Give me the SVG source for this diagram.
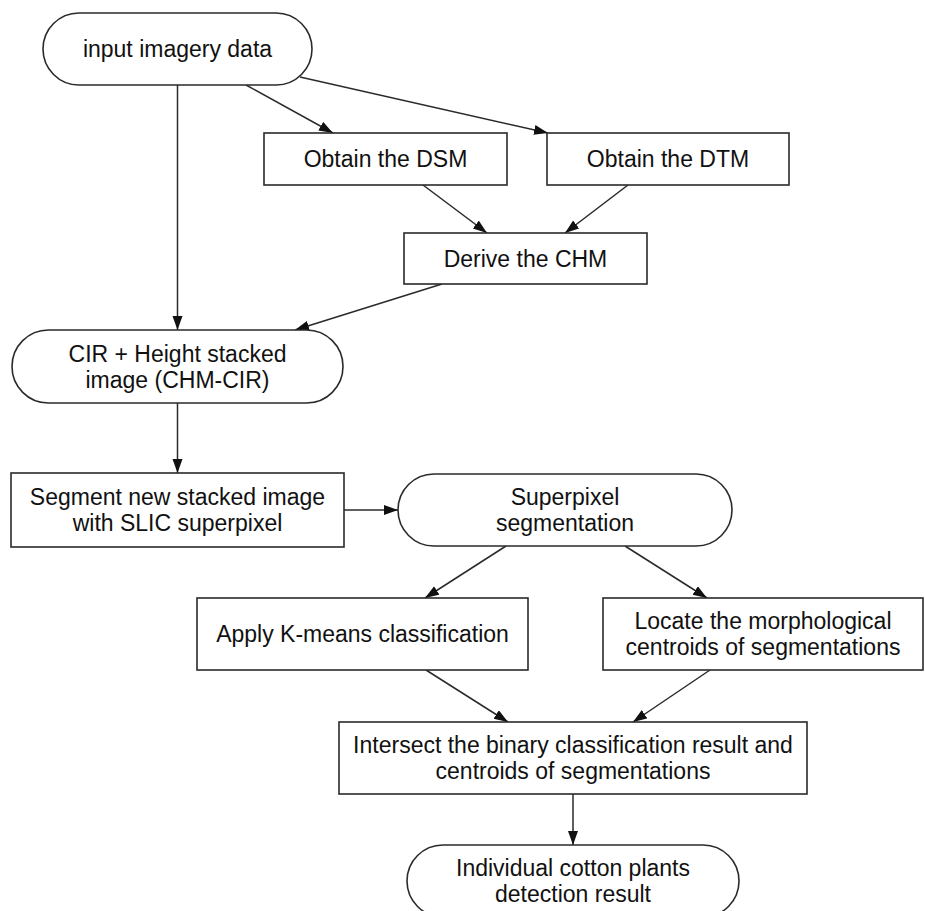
<svg xmlns="http://www.w3.org/2000/svg" width="925" height="911" viewBox="0 0 925 911">
<style>
.shape{fill:#fff;stroke:#2a2a2a;stroke-width:1.6}
.lbl{font-family:"Liberation Sans",Arial,sans-serif;font-size:23px;fill:#111;text-anchor:middle}
.edge{stroke:#2a2a2a;stroke-width:1.5;fill:none;marker-end:url(#ah)}
</style>
<defs>
<marker id="ah" markerUnits="userSpaceOnUse" markerWidth="15" markerHeight="11" refX="14" refY="5" orient="auto">
<path d="M0,0 L14,5 L0,10 z" fill="#111"/>
</marker>
</defs>
<rect width="925" height="911" fill="#fff"/>
<g id="connectors">
<line class="edge" x1="246" y1="85" x2="333" y2="133"/>
<line class="edge" x1="300" y1="77" x2="548" y2="133"/>
<line class="edge" x1="177.5" y1="85" x2="177.5" y2="330"/>
<line class="edge" x1="423" y1="185" x2="487" y2="233"/>
<line class="edge" x1="628" y1="185" x2="565" y2="233"/>
<line class="edge" x1="442" y1="284" x2="295" y2="330"/>
<line class="edge" x1="177.5" y1="403" x2="177.5" y2="473"/>
<line class="edge" x1="344" y1="510" x2="398" y2="510"/>
<line class="edge" x1="506" y1="546" x2="425" y2="598"/>
<line class="edge" x1="625" y1="546" x2="707" y2="598"/>
<line class="edge" x1="426" y1="670" x2="508" y2="722"/>
<line class="edge" x1="710" y1="670" x2="633" y2="722"/>
<line class="edge" x1="573" y1="794" x2="573" y2="845"/>
</g>
<g id="n_input">
<rect class="shape" x="43" y="13" width="269" height="72" rx="36"/>
<text class="lbl" x="177.5" y="57">input imagery data</text>
</g>
<g id="n_dsm">
<rect class="shape" x="264" y="133" width="243" height="52"/>
<text class="lbl" x="385.5" y="167">Obtain the DSM</text>
</g>
<g id="n_dtm">
<rect class="shape" x="547" y="133" width="242" height="52"/>
<text class="lbl" x="668" y="167">Obtain the DTM</text>
</g>
<g id="n_chm">
<rect class="shape" x="404" y="233" width="243" height="51"/>
<text class="lbl" x="525.5" y="266.5">Derive the CHM</text>
</g>
<g id="n_cir">
<rect class="shape" x="12" y="330" width="331" height="73" rx="36.5"/>
<text class="lbl" x="177.5" y="361.5">CIR + Height stacked</text>
<text class="lbl" x="177.5" y="387.5">image (CHM-CIR)</text>
</g>
<g id="n_segment">
<rect class="shape" x="11" y="473" width="333" height="74"/>
<text class="lbl" x="177.5" y="505">Segment new stacked image</text>
<text class="lbl" x="177.5" y="531">with SLIC superpixel</text>
</g>
<g id="n_superpixel">
<rect class="shape" x="398" y="474" width="334" height="72" rx="36"/>
<text class="lbl" x="565" y="505">Superpixel</text>
<text class="lbl" x="565" y="531">segmentation</text>
</g>
<g id="n_kmeans">
<rect class="shape" x="197" y="598" width="331" height="72"/>
<text class="lbl" x="362.5" y="642">Apply K-means classification</text>
</g>
<g id="n_locate">
<rect class="shape" x="603" y="598" width="320" height="72"/>
<text class="lbl" x="763" y="629">Locate the morphological</text>
<text class="lbl" x="763" y="655">centroids of segmentations</text>
</g>
<g id="n_intersect">
<rect class="shape" x="339" y="722" width="468" height="72"/>
<text class="lbl" x="573" y="753">Intersect the binary classification result and</text>
<text class="lbl" x="573" y="779">centroids of segmentations</text>
</g>
<g id="n_result">
<rect class="shape" x="407" y="845" width="332" height="72" rx="36"/>
<text class="lbl" x="573" y="876">Individual cotton plants</text>
<text class="lbl" x="573" y="902">detection result</text>
</g>
</svg>
